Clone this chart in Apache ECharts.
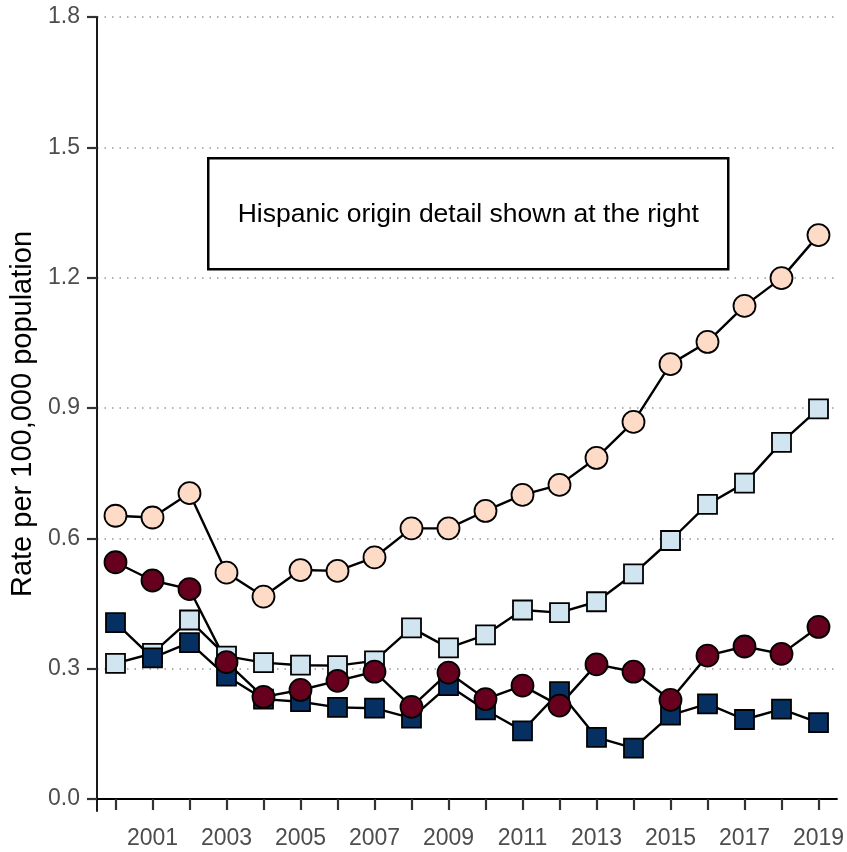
<!DOCTYPE html>
<html>
<head>
<meta charset="utf-8">
<script src="https://cdn.jsdelivr.net/npm/echarts@6/dist/echarts.min.js"></script>
<style>
html,body{margin:0;padding:0;background:#fff;}
#chart{width:847px;height:852px;}
</style>
</head>
<body>
<div id="chart"></div>
<script>
const years = ['2000','2001','2002','2003','2004','2005','2006','2007','2008','2009','2010','2011','2012','2013','2014','2015','2016','2017','2018','2019'];
const yTicks = [0, 0.3, 0.6, 0.9, 1.2, 1.5, 1.8];
const peachCircles = [0.652,0.648,0.704,0.521,0.466,0.527,0.525,0.556,0.623,0.623,0.663,0.700,0.723,0.785,0.868,1.001,1.052,1.135,1.199,1.298];
const redCircles = [0.545,0.503,0.483,0.315,0.235,0.251,0.272,0.293,0.212,0.291,0.230,0.261,0.215,0.310,0.293,0.228,0.330,0.351,0.334,0.396];
const lightBlueSquares = [0.312,0.335,0.412,0.329,0.314,0.308,0.307,0.318,0.394,0.348,0.378,0.435,0.429,0.454,0.518,0.595,0.678,0.727,0.821,0.898];
const navySquares = [0.406,0.325,0.360,0.283,0.230,0.224,0.211,0.209,0.186,0.261,0.205,0.157,0.247,0.142,0.117,0.193,0.219,0.183,0.207,0.176];
const annotationText = 'Hispanic origin detail shown at the right';
const yTitle = 'Rate per 100,000 population';

const FONT = '"Liberation Sans", Arial, sans-serif';
const chart = echarts.init(document.getElementById('chart'), null, {renderer: 'canvas'});

function mkSeries(name, data, symbol, size, color) {
  return {
    name: name,
    type: 'line',
    data: data,
    symbol: symbol,
    symbolSize: size,
    showAllSymbol: true,
    lineStyle: {color: '#000', width: 2.4},
    itemStyle: {color: color, borderColor: '#000', borderWidth: 1.8},
    emphasis: {disabled: true},
    animation: false
  };
}

chart.setOption({
  animation: false,
  backgroundColor: '#fff',
  grid: {left: 97, right: 10, top: 17, bottom: 41, containLabel: false, outerBoundsMode: 'none'},
  xAxis: {
    type: 'category',
    data: years,
    boundaryGap: true,
    axisLine: {show: true, lineStyle: {color: '#000', width: 1.8}},
    axisTick: {show: true, alignWithLabel: true, interval: 0, length: 11, lineStyle: {color: '#333', width: 2.2}},
    axisLabel: {
      interval: function (i) { return i % 2 === 1; },
      color: '#4D4D4D', fontSize: 23, fontFamily: FONT, margin: 16
    },
    splitLine: {show: false}
  },
  yAxis: {
    type: 'value',
    min: -0.0276,
    max: 1.8,
    name: yTitle,
    nameLocation: 'middle',
    nameGap: 57,
    nameTextStyle: {color: '#000', fontSize: 29, fontFamily: FONT},
    axisLine: {show: true, lineStyle: {color: '#000', width: 1.8}},
    axisTick: {show: true, length: 10, customValues: yTicks, lineStyle: {color: '#333', width: 2.2}},
    axisLabel: {
      customValues: yTicks,
      formatter: function (v) { return Number(v).toFixed(1); },
      color: '#4D4D4D', fontSize: 23, fontFamily: FONT, margin: 17
    },
    splitLine: {show: true, lineStyle: {color: '#999', width: 1.5, type: [1.5, 6]}}
  },
  graphic: [{
    type: 'group',
    left: 207,
    top: 157,
    children: [{
      type: 'rect',
      shape: {x: 0, y: 0, width: 520, height: 111},
      style: {fill: '#fff', stroke: '#000', lineWidth: 2.5}
    }, {
      type: 'text',
      x: 260,
      y: 56,
      style: {text: annotationText, fill: '#000', fontSize: 26.5, fontFamily: FONT, align: 'center', verticalAlign: 'middle'}
    }]
  }],
  series: [
    mkSeries('lightblue', lightBlueSquares, 'rect', 19, '#D1E5F0'),
    mkSeries('navy', navySquares, 'rect', 19, '#053061'),
    mkSeries('peach', peachCircles, 'circle', 22, '#FDDBC7'),
    mkSeries('red', redCircles, 'circle', 22, '#67001F')
  ]
});
</script>
</body>
</html>
